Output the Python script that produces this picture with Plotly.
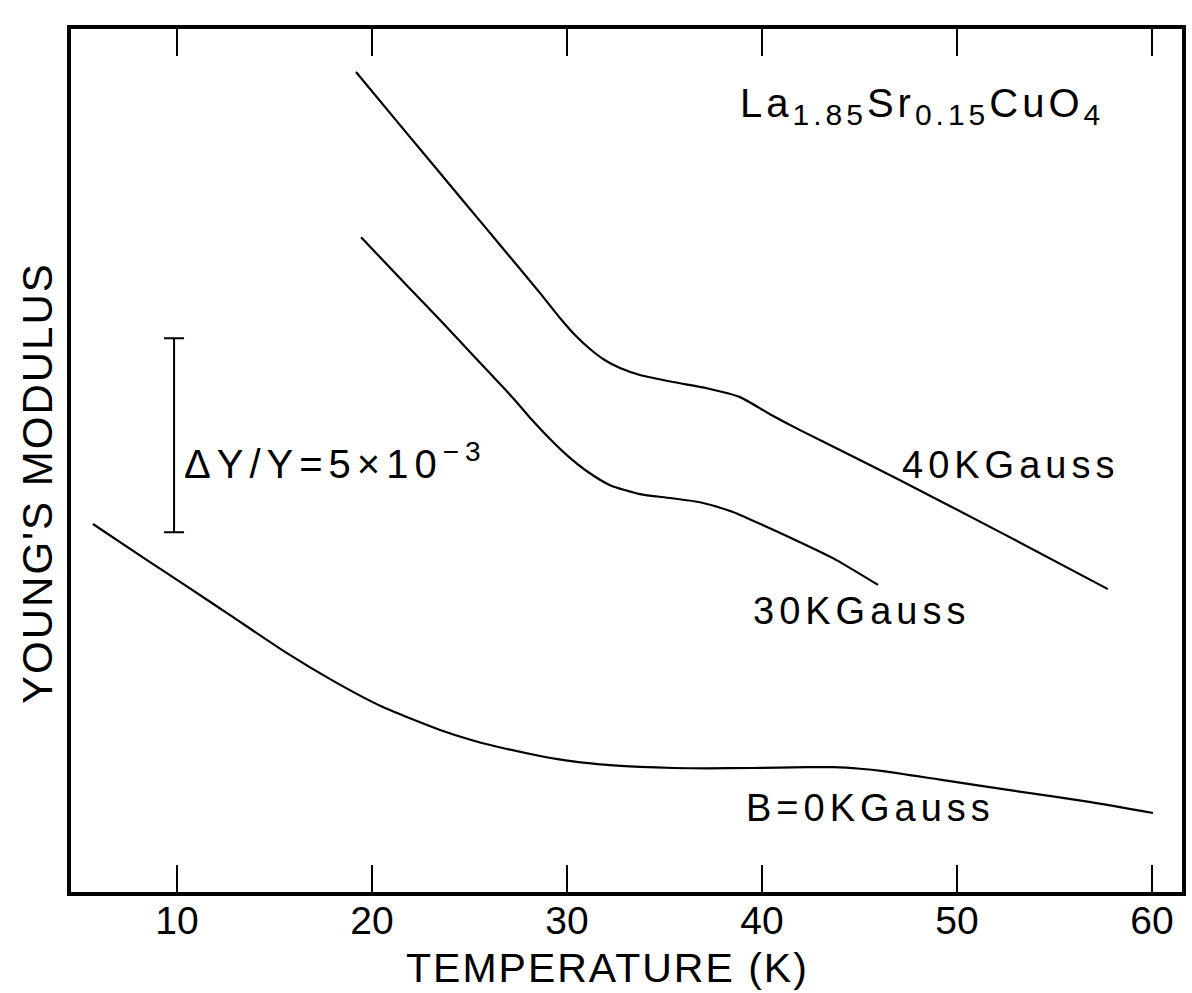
import plotly.graph_objects as go

# Temperature (K) and relative change of Young's modulus (units of 1e-3, arbitrary offset)
temp_40k = [19.18, 21.79, 24.51, 26.92, 28.62, 29.64, 30.41, 31.18, 31.95, 32.72,
            33.74, 35.44, 37.18, 38.87, 40.41, 41.95, 44.51, 47.08, 52.21, 57.74]
dy_40k = [21.24, 19.66, 18.02, 16.57, 15.54, 14.90, 14.46, 14.10, 13.81, 13.61,
          13.43, 13.25, 13.09, 12.86, 12.42, 12.01, 11.37, 10.72, 9.38, 7.91]

temp_30k = [19.44, 21.79, 23.49, 25.18, 27.23, 28.21, 29.13, 30.05, 31.08, 32.21,
            33.74, 35.28, 36.82, 38.51, 40.26, 41.95, 43.64, 45.95]
dy_30k = [16.98, 15.74, 14.85, 13.94, 12.84, 12.27, 11.78, 11.34, 10.93, 10.59,
          10.36, 10.26, 10.15, 9.90, 9.51, 9.12, 8.71, 8.02]

temp_0k = [5.69, 8.46, 10.72, 12.72, 15.64, 18.10, 20.56, 23.49, 25.18, 26.92,
           28.62, 30.31, 32.05, 33.74, 35.44, 37.18, 39.44, 42.31, 43.69, 45.03,
           46.21, 49.13, 52.97, 56.87, 60.05]
dy_0k = [9.59, 8.66, 7.91, 7.24, 6.26, 5.52, 4.87, 4.28, 4.01, 3.79,
         3.61, 3.47, 3.38, 3.33, 3.30, 3.29, 3.30, 3.32, 3.32, 3.28,
         3.22, 3.00, 2.71, 2.42, 2.14]

# scale bar: dY/Y = 5e-3 (5 units of 1e-3)
scale_temp = [9.85]
scale_center = [11.88]
scale_half = 2.5

tick_vals = [10, 20, 30, 40, 50, 60]
tick_labels = ["10", "20", "30", "40", "50", "60"]

FONT = "Liberation Sans"


def spaced(s, px, size):
    return '<span style="letter-spacing:%dpx;font-size:%dpx">%s</span>' % (px, size, s)


def sub(s):
    return '<sub><span style="font-size:30px">%s</span></sub>' % s


fig = go.Figure()
line_style = dict(color="black", width=2.2, shape="spline", smoothing=0.6)
for t, d in [(temp_40k, dy_40k), (temp_30k, dy_30k), (temp_0k, dy_0k)]:
    fig.add_trace(go.Scatter(x=t, y=d, mode="lines", line=line_style,
                             hoverinfo="skip"))

fig.add_trace(go.Scatter(
    x=scale_temp, y=scale_center, mode="markers",
    marker=dict(size=1, color="rgba(0,0,0,0)"),
    error_y=dict(type="constant", value=scale_half, width=10, thickness=2,
                 color="black"),
    hoverinfo="skip"))

annos = [
    dict(x=38.77, y=20.36, xanchor="left", yanchor="middle",
         text=spaced("La" + sub("1.85") + "Sr" + sub("0.15") + "CuO" + sub("4"), 4, 40), size=40),
    dict(x=10.26, y=11.21, xanchor="left", yanchor="middle",
         text=spaced("ΔY/Y=5×10<sup>−3</sup>", 6, 40), size=40),
    dict(x=52.72, y=11.11, xanchor="center", yanchor="middle",
         text=spaced("40KGauss", 5, 38), size=38),
    dict(x=45.08, y=7.35, xanchor="center", yanchor="middle",
         text=spaced("30KGauss", 5, 38), size=38),
    dict(x=45.54, y=2.27, xanchor="center", yanchor="middle",
         text=spaced("B=0KGauss", 5, 38), size=38),
]
for a in annos:
    fig.add_annotation(x=a["x"], y=a["y"], xref="x", yref="y", text=a["text"],
                       showarrow=False, xanchor=a["xanchor"], yanchor=a["yanchor"],
                       font=dict(family=FONT, size=a["size"], color="black"))

# axis titles
fig.add_annotation(x=0.4825, y=-0.088, xref="paper", yref="paper",
                   text=spaced("TEMPERATURE (K)", 2, 41), showarrow=False,
                   xanchor="center", yanchor="middle",
                   font=dict(family=FONT, size=41, color="black"))
fig.add_annotation(x=-0.0297, y=0.474, xref="paper", yref="paper",
                   text=spaced("YOUNG'S MODULUS", 2, 42), showarrow=False,
                   textangle=-90, xanchor="center", yanchor="middle",
                   font=dict(family=FONT, size=42, color="black"))

fig.update_layout(
    width=1192, height=993,
    margin=dict(l=71, r=10, t=29, b=101, autoexpand=False),
    paper_bgcolor="white", plot_bgcolor="white",
    showlegend=False,
    font=dict(family=FONT, color="black"),
    xaxis=dict(
        range=[4.564, 61.54], tickmode="array", tickvals=tick_vals,
        ticktext=tick_labels,
        ticks="inside", ticklen=27, tickwidth=2, tickcolor="black",
        ticklabelstandoff=-9,
        showline=True, linewidth=4, linecolor="black", mirror="ticks",
        showgrid=False, zeroline=False,
        tickfont=dict(family=FONT, size=39, color="black"),
        automargin=False,
    ),
    yaxis=dict(
        range=[0.103, 22.35], showticklabels=False, ticks="",
        showline=True, linewidth=3.5, linecolor="black", mirror=True,
        showgrid=False, zeroline=False,
        automargin=False,
    ),
)

fig.write_html("out.html")
